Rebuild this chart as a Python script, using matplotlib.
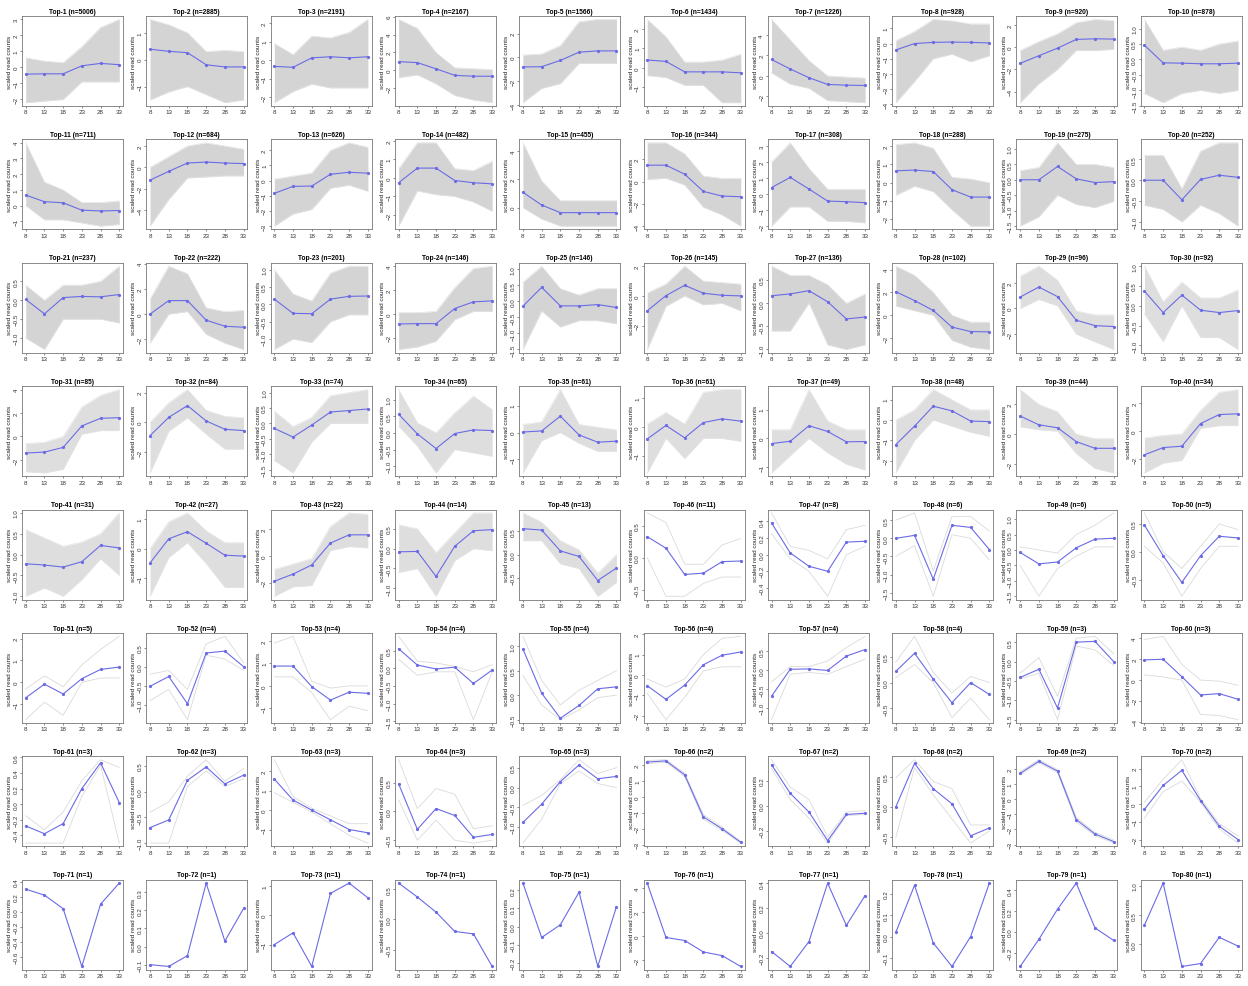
import matplotlib
matplotlib.use("Agg")
import matplotlib.pyplot as plt
from matplotlib.ticker import MaxNLocator

plt.rcParams['font.family'] = ['Liberation Sans', 'DejaVu Sans']

# time points (x axis)
timepoints = [8, 13, 18, 23, 28, 33]

# cluster sizes, Top-1 .. Top-80
cluster_sizes = [5006, 2885, 2191, 2167, 1566, 1434, 1226, 928, 920, 878,
                 711, 684, 626, 482, 455, 344, 308, 288, 275, 252,
                 237, 222, 201, 146, 146, 145, 136, 102, 96, 92,
                 85, 84, 74, 65, 61, 61, 49, 48, 44, 34,
                 31, 27, 22, 14, 13, 11, 8, 6, 6, 5,
                 5, 4, 4, 4, 4, 4, 4, 4, 3, 3,
                 3, 3, 3, 3, 3, 2, 2, 2, 2, 2,
                 1, 1, 1, 1, 1, 1, 1, 1, 1, 1]

# cluster means (blue line)
centroids = [
    [-0.42, -0.4, -0.4, 0.1, 0.25, 0.17],
    [0.39, 0.31, 0.26, -0.19, -0.27, -0.27],
    [-0.34, -0.39, 0.12, 0.18, 0.12, 0.18],
    [0.98, 0.87, 0.18, -0.55, -0.65, -0.65],
    [-0.8, -0.78, -0.25, 0.44, 0.55, 0.55],
    [0.4, 0.33, -0.21, -0.21, -0.21, -0.26],
    [1.6, 0.67, -0.17, -0.83, -0.9, -0.93],
    [-0.42, 0.0, 0.08, 0.1, 0.08, 0.04],
    [-1.46, -0.78, -0.09, 0.69, 0.75, 0.72],
    [0.46, -0.11, -0.12, -0.14, -0.14, -0.12],
    [0.67, 0.25, 0.18, -0.29, -0.34, -0.31],
    [-1.2, -0.38, 0.4, 0.49, 0.4, 0.35],
    [-0.84, -0.38, -0.36, 0.42, 0.55, 0.49],
    [-0.26, 0.53, 0.53, -0.14, -0.26, -0.32],
    [1.09, 0.19, -0.35, -0.35, -0.35, -0.35],
    [1.48, 1.48, 0.67, -0.88, -1.3, -1.36],
    [0.4, 1.04, 0.31, -0.44, -0.48, -0.54],
    [0.65, 0.69, 0.61, -0.39, -0.8, -0.8],
    [0.0, 0.0, 0.43, 0.03, -0.09, -0.06],
    [0.0, 0.0, -0.47, 0.02, 0.12, 0.07],
    [0.02, -0.36, 0.07, 0.1, 0.09, 0.15],
    [0.0, 1.07, 1.07, -0.48, -0.96, -1.04],
    [0.15, -0.26, -0.27, 0.15, 0.23, 0.24],
    [-0.86, -0.83, -0.83, 0.44, 1.0, 1.08],
    [-0.15, 0.44, -0.14, -0.14, -0.1, -0.19],
    [-1.0, 0.02, 0.71, 0.18, 0.04, 0.0],
    [0.16, 0.2, 0.27, 0.03, -0.34, -0.3],
    [2.06, 1.28, 0.42, -1.04, -1.43, -1.46],
    [0.89, 1.67, 0.92, -0.92, -1.34, -1.41],
    [0.37, -0.17, 0.27, -0.11, -0.17, -0.12],
    [-1.41, -1.33, -0.93, 0.9, 1.55, 1.6],
    [-0.9, 0.33, 1.12, 0.09, -0.47, -0.56],
    [-0.16, -0.44, -0.05, 0.37, 0.42, 0.47],
    [0.56, -0.03, -0.47, -0.02, 0.09, 0.07],
    [0.02, 0.06, 0.61, -0.09, -0.36, -0.32],
    [-0.42, 0.05, -0.38, 0.15, 0.28, 0.2],
    [-0.18, -0.1, 0.44, 0.24, -0.12, -0.11],
    [-1.21, -0.3, 0.68, 0.45, -0.05, -0.08],
    [1.22, 0.63, 0.43, -0.5, -0.95, -0.95],
    [-1.7, -1.18, -1.08, 0.55, 1.2, 1.25],
    [-0.22, -0.25, -0.3, -0.17, 0.22, 0.16],
    [-0.48, 0.33, 0.57, 0.18, -0.22, -0.25],
    [-1.88, -1.35, -0.67, 0.96, 1.57, 1.57],
    [-0.08, -0.07, -0.7, 0.06, 0.45, 0.48],
    [0.56, 0.53, 0.08, -0.04, -0.56, -0.29],
    [0.33, 0.15, -0.26, -0.24, -0.06, -0.05],
    [0.38, 0.02, -0.14, -0.2, 0.15, 0.16],
    [0.0, 0.08, -1.13, 0.36, 0.3, -0.31],
    [-0.08, -0.45, -0.39, 0.07, 0.35, 0.38],
    [0.48, -0.07, -0.55, -0.07, 0.28, 0.25],
    [-0.7, -0.08, -0.53, 0.17, 0.59, 0.7],
    [-0.52, -0.26, -0.98, 0.36, 0.41, 0.0],
    [0.88, 0.88, -0.03, -0.63, -0.28, -0.33],
    [0.55, 0.09, -0.02, 0.03, -0.43, -0.05],
    [0.94, 0.04, -0.47, -0.21, 0.13, 0.17],
    [-0.53, -1.2, -0.5, 0.5, 0.97, 1.13],
    [-0.68, 0.03, 0.04, 0.0, 0.38, 0.55],
    [0.22, 0.57, 0.07, -0.39, 0.0, -0.23],
    [-0.41, -0.2, -1.2, 0.5, 0.52, 0.0],
    [1.94, 2.0, 0.32, -1.43, -1.3, -1.84],
    [-0.28, -0.38, -0.25, 0.2, 0.53, 0.02],
    [-0.7, -0.55, 0.22, 0.48, 0.15, 0.32],
    [1.6, 0.52, 0.0, -0.5, -1.0, -1.17],
    [0.48, -0.31, 0.05, -0.07, -0.45, -0.4],
    [-0.88, -0.42, 0.15, 0.57, 0.22, 0.28],
    [2.2, 2.28, 1.4, -1.25, -2.0, -2.85],
    [0.33, 0.1, -0.05, -0.28, -0.07, -0.06],
    [0.0, 0.72, 0.3, 0.05, -0.48, -0.35],
    [1.7, 2.5, 1.85, -1.35, -2.3, -2.8],
    [-0.3, 1.05, 1.9, 0.2, -1.25, -2.0],
    [0.3, 0.22, 0.04, -0.73, 0.1, 0.38],
    [-0.1, -0.11, -0.05, 0.35, 0.03, 0.21],
    [-1.0, -0.6, -1.75, 0.75, 1.1, 0.6],
    [0.6, 0.37, 0.12, -0.2, -0.24, -0.78],
    [0.24, -0.06, 0.01, 0.19, -0.22, 0.11],
    [4.4, -0.1, -0.35, -1.3, -1.6, -2.5],
    [-0.15, -0.27, -0.07, 0.4, 0.06, 0.3],
    [0.02, 0.24, -0.03, -0.14, 0.0, 0.25],
    [-0.33, -0.07, 0.22, 0.47, 0.04, -0.08],
    [0.33, 1.05, -0.38, -0.33, 0.12, -0.03],
]

# upper edge of the member genes (grey lines), None for single-gene clusters
upper = [
    [0.6, 0.4, 0.3, 1.3, 2.5, 3.0],
    [1.5, 1.3, 1.0, 0.3, 0.35, 0.3],
    [0.9, 0.3, 1.3, 1.2, 1.5, 2.2],
    [5.7, 4.7, 2.0, 0.3, 0.2, 0.1],
    [0.2, 0.3, 1.0, 3.0, 3.2, 3.2],
    [2.5, 1.6, 0.3, 0.3, 0.4, 0.7],
    [5.5, 3.5, 1.5, 0.0, -0.1, -0.2],
    [0.2, 0.8, 1.6, 1.5, 1.3, 1.3],
    [-0.3, 0.5, 1.2, 2.2, 2.5, 2.4],
    [1.3, 0.3, 0.4, 0.3, 0.5, 0.6],
    [4.0, 1.5, 1.0, 0.2, 0.2, 0.3],
    [0.0, 1.0, 2.0, 2.3, 2.0, 1.7],
    [0.1, 0.3, 0.5, 2.0, 2.5, 2.2],
    [0.5, 1.9, 1.9, 0.5, 0.4, 0.9],
    [4.6, 1.9, 0.5, 0.5, 0.5, 0.5],
    [3.5, 3.5, 2.5, 0.5, 0.3, 0.3],
    [2.0, 3.2, 1.6, 0.3, 0.3, 0.3],
    [2.1, 2.2, 1.9, 0.3, 0.2, 0.0],
    [0.3, 0.4, 1.2, 0.5, 0.5, 0.4],
    [0.6, 0.6, -0.2, 0.7, 0.9, 0.9],
    [0.4, 0.0, 0.4, 0.4, 0.5, 0.9],
    [1.2, 3.8, 3.2, 0.5, 0.2, 0.3],
    [1.0, 0.3, 0.1, 0.9, 1.1, 1.1],
    [0.1, 0.1, 0.2, 2.2, 3.8, 4.0],
    [0.6, 1.1, 0.4, 0.2, 0.4, 0.4],
    [0.2, 0.8, 2.0, 1.0, 0.9, 0.8],
    [0.8, 0.6, 0.6, 0.4, 0.0, 0.2],
    [4.3, 3.5, 2.0, 0.0, -0.6, -0.6],
    [2.5, 3.3, 2.2, -0.2, -0.5, -0.5],
    [1.0, 0.1, 0.6, 0.2, 0.2, 0.4],
    [-0.6, -0.5, 0.0, 2.5, 3.5, 4.0],
    [0.0, 1.3, 2.2, 0.8, 0.4, 0.3],
    [0.4, -0.1, 0.2, 0.9, 1.0, 1.1],
    [1.3, 0.3, 0.0, 0.6, 1.1, 0.7],
    [0.3, 0.4, 1.6, 0.3, 0.2, 0.1],
    [0.1, 0.5, 0.1, 1.2, 1.3, 1.3],
    [0.3, 0.3, 1.7, 0.6, 0.3, 0.3],
    [0.0, 0.5, 1.5, 1.0, 0.5, 0.5],
    [3.0, 2.0, 1.5, 0.0, -0.3, -0.3],
    [-0.5, -0.3, -0.2, 1.5, 2.8, 3.0],
    [0.6, 0.4, 0.2, 0.3, 0.5, 1.0],
    [0.0, 0.9, 1.2, 0.6, 0.2, 0.2],
    [-1.0, -0.6, -0.2, 2.2, 3.2, 3.1],
    [0.6, 0.5, -0.1, 0.4, 0.9, 0.9],
    [0.9, 0.7, 0.3, 0.1, -0.4, 0.0],
    [0.7, 0.55, -0.1, -0.1, 0.2, 0.3],
    [0.5, 0.1, 0.05, -0.05, 0.3, 0.35],
    [0.5, 0.7, -0.9, 0.6, 0.6, 0.2],
    [0.1, 0.0, -0.1, 0.5, 0.8, 1.2],
    [0.7, 0.0, -0.3, 0.1, 0.5, 0.4],
    [-0.3, 0.3, -0.2, 0.8, 1.5, 2.1],
    [-0.2, -0.1, -0.6, 0.6, 0.8, 0.1],
    [1.9, 2.2, 0.2, -0.1, 0.0, 0.0],
    [0.9, 0.2, 0.15, 0.05, -0.1, 0.1],
    [1.2, 0.3, -0.2, 0.1, 0.3, 0.5],
    [-0.2, -0.6, -0.2, 1.0, 1.8, 1.9],
    [-0.3, 0.1, 0.1, 0.25, 0.6, 0.9],
    [0.4, 0.9, 0.2, -0.2, 0.12, 0.0],
    [-0.3, 0.1, -0.9, 0.6, 0.65, 0.2],
    [3.9, 4.2, 1.5, 0.0, -0.1, -0.5],
    [-0.15, -0.33, -0.1, 0.3, 0.57, 0.47],
    [-0.4, -0.2, 0.3, 0.62, 0.2, 0.45],
    [2.6, 0.7, 0.1, -0.3, -0.7, -0.7],
    [0.9, 0.05, 0.4, 0.3, -0.3, -0.25],
    [-0.45, -0.2, 0.2, 0.7, 0.35, 0.5],
    [2.3, 2.35, 1.5, -1.1, -1.9, -2.8],
    [0.37, 0.15, 0.05, -0.25, -0.05, -0.04],
    [0.48, 0.78, 0.42, 0.3, -0.3, -0.3],
    [1.8, 2.6, 1.95, -1.2, -2.2, -2.7],
    [0.1, 1.4, 2.5, 0.3, -1.1, -1.8],
] + [None] * 10

# lower edge of the member genes
lower = [
    [-2.2, -2.1, -2.0, -0.9, -0.9, -0.9],
    [-1.5, -1.2, -1.0, -1.3, -1.6, -1.5],
    [-2.3, -1.7, -1.3, -1.5, -1.5, -1.5],
    [-0.8, -0.5, -1.5, -2.8, -3.3, -3.6],
    [-3.8, -2.6, -2.2, -0.5, -0.5, -0.5],
    [-0.4, -0.5, -0.9, -0.9, -1.8, -1.8],
    [0.3, -0.8, -1.2, -2.4, -2.5, -2.6],
    [-3.9, -2.5, -1.0, -0.7, -1.2, -0.8],
    [-5.0, -3.3, -2.0, -0.3, -0.3, -0.2],
    [-1.1, -1.4, -1.1, -1.0, -1.1, -1.0],
    [0.0, -0.9, -0.9, -1.1, -1.3, -1.2],
    [-5.5, -3.0, -1.0, -0.9, -0.8, -0.8],
    [-3.0, -2.2, -1.9, -0.5, -0.3, -0.7],
    [-2.6, -0.7, -0.9, -1.0, -1.3, -1.8],
    [0.0, -0.8, -1.3, -1.3, -1.3, -1.3],
    [0.2, 0.3, -0.3, -2.3, -3.0, -4.0],
    [-2.0, -0.8, -0.8, -1.7, -1.7, -1.8],
    [-0.7, -0.2, -0.5, -1.5, -2.4, -2.4],
    [-1.5, -1.2, -0.5, -0.8, -0.9, -0.7],
    [-0.6, -0.7, -1.0, -0.6, -0.8, -1.1],
    [-1.0, -1.3, -0.5, -0.5, -0.5, -0.6],
    [-2.3, 0.0, 0.2, -1.6, -2.3, -2.8],
    [-1.3, -1.0, -1.1, -0.5, -0.3, -0.3],
    [-3.0, -2.8, -2.3, -0.5, 0.2, 0.2],
    [-1.5, -0.3, -0.8, -0.6, -0.6, -0.7],
    [-3.6, -0.7, 0.0, -0.6, -0.5, -1.0],
    [-0.6, -0.6, 0.0, -0.9, -1.0, -0.9],
    [0.8, 0.4, 0.0, -2.2, -2.8, -3.0],
    [0.0, 0.7, 0.2, -2.0, -2.6, -3.2],
    [-0.2, -0.9, 0.0, -0.8, -0.8, -1.1],
    [-3.0, -3.1, -2.8, 0.2, 0.5, 0.5],
    [-3.4, -0.6, 0.3, -0.8, -1.8, -1.8],
    [-1.2, -1.6, -0.6, 0.0, 0.0, 0.0],
    [0.2, -0.4, -1.2, -0.5, -0.6, -0.7],
    [-1.5, -0.3, 0.0, -0.4, -0.7, -0.7],
    [-1.6, -0.4, -1.1, -0.4, -0.4, -0.5],
    [-1.2, -0.6, 0.0, -0.5, -0.9, -1.1],
    [-2.6, -1.0, 0.0, -0.3, -0.6, -0.8],
    [0.5, 0.3, 0.2, -1.3, -2.3, -2.6],
    [-3.0, -2.3, -2.1, 0.2, 0.4, 0.4],
    [-1.0, -0.8, -1.0, -0.6, -0.1, -0.5],
    [-1.6, -0.3, 0.2, -0.5, -1.3, -1.3],
    [-3.0, -2.3, -2.2, 0.4, 0.7, 0.6],
    [-0.6, -0.5, -1.2, -0.3, 0.0, -0.05],
    [0.3, 0.3, -0.2, -0.3, -0.9, -0.6],
    [0.0, -0.6, -0.6, -0.4, -0.3, -0.3],
    [0.25, -0.05, -0.2, -0.5, 0.0, 0.1],
    [-0.5, -0.2, -1.6, 0.1, 0.0, -0.6],
    [-0.5, -1.5, -0.6, -0.2, 0.1, 0.1],
    [0.1, -0.2, -0.8, -0.3, 0.1, 0.1],
    [-1.7, -0.9, -1.5, 0.0, 0.2, 0.2],
    [-0.9, -0.6, -1.4, 0.3, 0.2, -0.1],
    [0.4, 0.4, -0.3, -1.5, -0.9, -1.1],
    [0.25, -0.2, -0.1, -0.1, -1.45, -0.1],
    [0.4, -0.2, -0.5, -0.3, -0.05, 0.0],
    [-0.9, -2.2, -1.1, 0.2, 0.4, 0.4],
    [-1.3, -0.1, -0.05, -0.1, 0.1, 0.3],
    [0.1, 0.35, 0.0, -0.68, -0.3, -0.72],
    [-0.45, -0.3, -1.5, 0.4, 0.3, -0.1],
    [0.5, 0.3, 0.0, -3.3, -3.4, -3.8],
    [-0.5, -0.5, -0.5, 0.1, 0.5, -0.5],
    [-1.0, -1.0, 0.1, 0.4, 0.1, 0.25],
    [0.9, 0.4, -0.1, -0.7, -1.3, -1.7],
    [0.2, -0.5, -0.15, -0.5, -0.55, -0.5],
    [-1.4, -0.8, 0.1, 0.42, 0.1, 0.0],
    [2.1, 2.2, 1.3, -1.4, -2.1, -2.9],
    [0.3, 0.05, -0.1, -0.3, -0.08, -0.07],
    [-0.5, 0.65, 0.2, -0.2, -0.6, -0.4],
    [1.6, 2.4, 1.75, -1.5, -2.4, -2.9],
    [-0.8, 0.7, 1.3, 0.1, -1.4, -2.2],
] + [None] * 10

W, H = 1248, 987
fig = plt.figure(figsize=(W / 100, H / 100), dpi=100)

ncol = 10
for i, (n, mean, hi, lo) in enumerate(zip(cluster_sizes, centroids, upper, lower)):
    r, c = divmod(i, ncol)
    left = 22 + c * 124.3
    top = 17 + r * 123.4
    ax = fig.add_axes([left / W, 1 - (top + 90) / H, 101 / W, 90 / H])

    vals = list(mean)
    if hi is not None:
        vals += hi + lo
        if n >= 12:
            shade = '#d4d4d4' if n >= 100 else '#dedede'
            ax.fill_between(timepoints, lo, hi, color=shade, lw=0, zorder=1)
            ax.plot(timepoints, hi, color='#e4e4e4', lw=0.5, zorder=1)
            ax.plot(timepoints, lo, color='#e4e4e4', lw=0.5, zorder=1)
        else:
            ax.plot(timepoints, hi, color='#dadada', lw=0.6, zorder=1)
            ax.plot(timepoints, lo, color='#dadada', lw=0.6, zorder=1)
    ax.plot(timepoints, mean, color='#6b6be6', lw=0.8, marker='o', ms=1.3, zorder=3)

    ymin, ymax = min(vals), max(vals)
    pad = (ymax - ymin) * 0.04
    ax.set_ylim(ymin - pad, ymax + pad)
    ax.set_xlim(7, 34)
    ax.set_xticks(timepoints)
    ax.yaxis.set_major_locator(MaxNLocator(nbins=6, steps=[1, 2, 5, 10]))

    ax.set_title(f'Top-{i + 1} (n={n})', fontsize=4.8, fontweight='bold', pad=2.5)
    ax.set_ylabel('scaled read counts', fontsize=4.6, labelpad=1, color='#222222')
    ax.tick_params(axis='both', labelsize=4.5, length=1.5, width=0.4, pad=1, colors='#333333')
    for lab in ax.get_yticklabels():
        lab.set_rotation(90)
        lab.set_va('center')
    for s in ax.spines.values():
        s.set_color('#777777')
        s.set_linewidth(0.6)

fig.savefig('out.png', dpi=100, facecolor='white')
